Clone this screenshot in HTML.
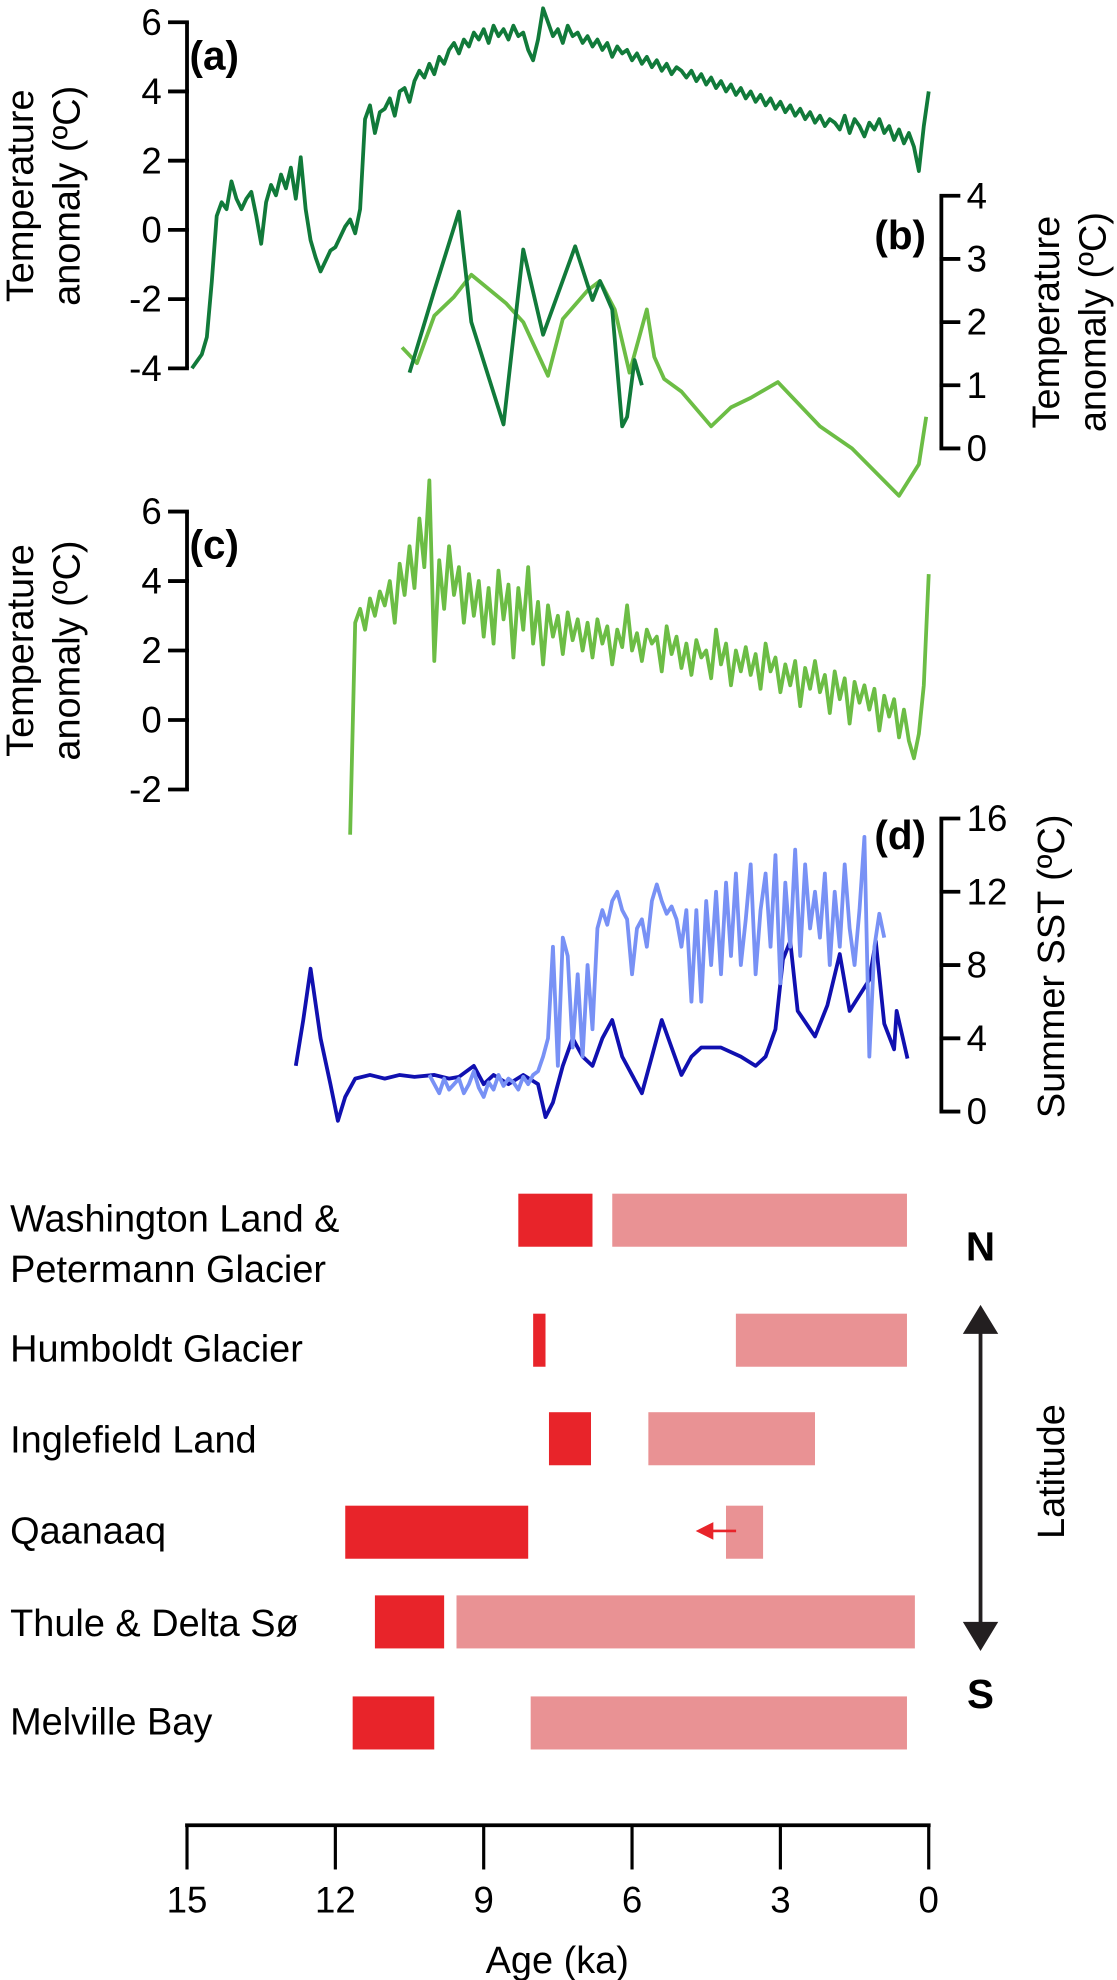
<!DOCTYPE html>
<html><head><meta charset="utf-8"><style>
html,body{margin:0;padding:0;background:#fff}
svg{display:block;font-family:"Liberation Sans",sans-serif}
</style></head><body>
<svg id="chart" width="1117" height="1980" viewBox="0 0 884 1567.5" preserveAspectRatio="none" xmlns="http://www.w3.org/2000/svg">
<g id="axes"></g>
<g id="series"></g>
<g id="bars"></g>
<g font-weight="bold" font-size="32">
<text x="150" y="55">(a)</text>
<text x="692" y="197">(b)</text>
<text x="150" y="442">(c)</text>
<text x="692" y="672">(d)</text>
</g>
<g font-size="30" text-anchor="middle">
<text transform="translate(26,155) rotate(-90)">Temperature</text>
<text transform="translate(63,155) rotate(-90)">anomaly (ºC)</text>
<text transform="translate(838,255) rotate(-90)">Temperature</text>
<text transform="translate(875,255) rotate(-90)">anomaly (ºC)</text>
<text transform="translate(26,515) rotate(-90)">Temperature</text>
<text transform="translate(63,515) rotate(-90)">anomaly (ºC)</text>
<text transform="translate(842,765) rotate(-90)">Summer SST (ºC)</text>
<text x="441" y="1562">Age (ka)</text>
<text transform="translate(842,1165) rotate(-90)">Latitude</text>
</g>
<g font-size="30">
<text x="8" y="975">Washington Land &amp;</text>
<text x="8" y="1015">Petermann Glacier</text>
<text x="8" y="1078">Humboldt Glacier</text>
<text x="8" y="1150">Inglefield Land</text>
<text x="8" y="1222">Qaanaaq</text>
<text x="8" y="1295">Thule &amp; Delta Sø</text>
<text x="8" y="1373">Melville Bay</text>
</g>
<g>
<text x="776" y="998" font-size="32" font-weight="bold" text-anchor="middle">N</text>
<text x="776" y="1352" font-size="32" font-weight="bold" text-anchor="middle">S</text>
<line x1="776" y1="1050" x2="776" y2="1290" stroke="#231f20" stroke-width="3"/>
<polygon points="776,1033 762,1056 790,1056" fill="#231f20"/>
<polygon points="776,1307 762,1284 790,1284" fill="#231f20"/>
</g>
</svg>
<script>
// ---- data ----
const aStart = 14.9, aStep = 0.1;
const aValues = [-4.0,-3.8,-3.6,-3.1,-1.5,0.4,0.8,0.6,1.4,0.9,
0.6,0.9,1.1,0.4,-0.4,0.8,1.3,1.0,1.6,1.2,
1.8,0.9,2.1,0.6,-0.3,-0.8,-1.2,-0.9,-0.6,-0.5,
-0.2,0.1,0.3,-0.1,0.6,3.2,3.6,2.8,3.4,3.5,
3.8,3.3,4.0,4.1,3.7,4.3,4.6,4.4,4.8,4.5,
5.0,4.8,5.2,5.4,5.1,5.5,5.3,5.7,5.5,5.8,
5.4,5.9,5.6,5.8,5.5,5.9,5.6,5.7,5.2,4.9,
5.5,6.4,6.0,5.6,5.8,5.4,5.9,5.6,5.7,5.4,
5.6,5.3,5.5,5.2,5.4,5.0,5.3,5.1,5.2,4.9,
5.1,4.8,5.0,4.7,4.9,4.6,4.8,4.5,4.7,4.6,
4.4,4.6,4.3,4.5,4.2,4.4,4.1,4.3,4.0,4.2,
3.9,4.1,3.8,4.0,3.7,3.9,3.6,3.8,3.5,3.7,
3.4,3.6,3.3,3.5,3.2,3.4,3.1,3.3,3.0,3.2,
3.1,2.9,3.3,2.8,3.2,3.0,2.7,3.1,2.9,3.2,
2.8,3.0,2.6,2.9,2.5,2.8,2.4,1.7,3.0,4.0];
const b1Ages = [10.5,10.0,9.5,9.25,8.6,8.2,7.8,7.15,6.8,6.65,6.4,6.2,6.1,5.95,5.8];
const b1Values = [1.2,2.5,3.75,2.0,0.38,3.15,1.8,3.2,2.35,2.65,2.2,0.35,0.5,1.4,1.0];
const b2Ages = [10.65,10.35,10.0,9.6,9.25,8.55,8.2,7.7,7.4,6.9,6.65,6.35,6.05,5.7,5.55,5.35,5.0,4.4,4.0,3.6,3.05,2.2,1.55,0.6,0.2,0.05];
const b2Values = [1.6,1.35,2.1,2.4,2.75,2.3,2.0,1.15,2.05,2.5,2.65,2.2,1.2,2.2,1.45,1.1,0.9,0.35,0.65,0.8,1.05,0.35,0.0,-0.75,-0.25,0.5];
const cStart = 11.7, cStep = 0.1;
const cValues = [-3.3,2.8,3.2,2.6,3.5,3.0,3.7,3.3,
4.0,2.8,4.5,3.6,5.0,3.8,5.8,4.4,6.9,1.7,
4.6,3.2,5.0,3.6,4.4,2.8,4.2,3.0,4.0,2.4,
3.8,2.2,4.3,2.9,3.9,1.8,3.8,2.6,4.4,2.2,
3.4,1.6,3.3,2.4,3.0,1.9,3.1,2.3,2.9,2.0,
2.8,1.8,2.9,2.2,2.7,1.6,2.6,2.1,3.3,2.0,
2.5,1.7,2.6,2.2,2.4,1.4,2.7,1.9,2.4,1.5,
2.2,1.3,2.3,1.8,2.0,1.2,2.6,1.6,2.2,1.0,
2.0,1.4,2.1,1.3,1.9,0.9,2.2,1.4,1.8,0.8,
1.6,1.0,1.7,0.4,1.5,0.9,1.7,0.8,1.3,0.2,
1.4,0.6,1.2,-0.1,1.1,0.5,1.0,0.3,0.9,-0.3,
0.7,0.1,0.6,-0.5,0.3,-0.6,-1.1,-0.4,1.0,4.2];
const d1Ages = [12.8,12.65,12.5,12.3,12.1,11.95,11.8,11.6,11.3,11.0,10.7,10.4,10.0,9.7,9.5,9.2,9.0,8.8,8.5,8.2,7.9,7.75,7.6,7.4,7.2,7.0,6.8,6.6,6.4,6.2,6.0,5.8,5.6,5.4,5.2,5.0,4.8,4.6,4.2,3.8,3.5,3.3,3.1,2.95,2.8,2.65,2.3,2.05,1.8,1.6,1.2,1.07,0.9,0.7,0.65,0.43];
const d1Values = [2.5,5.0,7.8,4.0,1.5,-0.5,0.8,1.8,2.0,1.8,2.0,1.9,2.0,1.8,1.9,2.5,1.5,2.0,1.5,2.0,1.5,-0.3,0.5,2.5,4.0,3.0,2.5,4.0,5.0,3.0,2.0,1.0,3.0,5.0,3.5,2.0,3.0,3.5,3.5,3.0,2.5,3.0,4.5,8.3,9.3,5.5,4.1,5.8,8.6,5.5,7.2,9.3,4.8,3.4,5.5,2.9];
const d2Start = 10.1, d2Step = 0.1;
const d2Values = [2.0,1.5,1.0,1.8,1.2,1.5,1.8,1.0,1.5,2.2,
1.3,0.8,1.6,1.2,2.0,1.4,1.8,1.6,1.2,1.9,
1.5,2.0,2.2,3.0,4.0,9.0,2.5,9.5,8.5,3.5,
7.5,3.0,8.0,4.5,10.0,11.0,10.2,11.5,12.0,11.0,
10.5,7.5,10.0,10.5,9.0,11.5,12.4,11.5,10.8,11.2,
10.5,9.0,11.0,6.0,11.0,6.0,11.5,8.0,12.0,7.5,
12.5,8.5,13.0,8.0,10.5,13.5,7.5,11.0,13.0,9.0,
14.0,7.0,12.5,9.0,14.3,8.5,13.5,10.0,12.0,9.5,
13.0,8.0,12.0,9.0,13.5,10.0,8.0,11.0,15.0,3.0,
9.0,10.8,9.5];
const siteNames = ["washington","humboldt","inglefield","qaanaaq","thule","melville"];
const siteTop = [945,1040,1118,1192,1263,1343];
const advanceStart = [8.3,8.0,7.68,11.8,11.2,11.65];
const advanceEnd = [6.8,7.75,6.83,8.1,9.8,10.0];
const retreatStart = [6.4,3.9,5.67,4.1,9.55,8.05];
const retreatEnd = [0.44,0.44,2.3,3.35,0.28,0.44];
const xTicks = [15,12,9,6,3,0];
const aTicks = [6,4,2,0,-2,-4];
const bTicks = [4,3,2,1,0];
const cTicks = [6,4,2,0,-2];
const dTicks = [16,12,8,4,0];

// ---- scales ----
const NS='http://www.w3.org/2000/svg';
const X = a => 735 - a*39.133;
const Ya = v => 182 - v*27.4;
const Yb = v => 355 - v*50;
const Yc = v => 570 - v*27.5;
const Yd = v => 880 - v*14.5;
function mk(tag, attrs, parent){const e=document.createElementNS(NS,tag);for(const k in attrs)e.setAttribute(k,attrs[k]);parent.appendChild(e);return e;}
const axes=document.getElementById('axes'), series=document.getElementById('series'), bars=document.getElementById('bars');

function line(ages, vals, ys, color, name){
  const d = vals.map((v,i)=>(i?'L':'M')+X(ages[i]).toFixed(1)+','+ys(v).toFixed(1)).join('');
  const p = mk('path',{d:d,fill:'none',stroke:color,'stroke-width':3,'stroke-linejoin':'round'},series);
  
  
}
const stepAges = (s,st,n)=>{const r=[];for(let i=0;i<n;i++)r.push(+(s-i*st).toFixed(3));return r;};
line(stepAges(aStart,aStep,aValues.length), aValues, Ya, '#117a3a', 'series-a-line');
line(b2Ages, b2Values, Yb, '#6cbd45', 'series-b-light-line');
line(b1Ages, b1Values, Yb, '#117a3a', 'series-b-dark-line');
line(stepAges(cStart,cStep,cValues.length), cValues, Yc, '#6cbd45', 'series-c-line');
line(d1Ages, d1Values, Yd, '#1010b0', 'series-d-dark-line');
line(stepAges(d2Start,d2Step,d2Values.length), d2Values, Yd, '#7891f5', 'series-d-light-line');

function yAxis(x, ticks, ys, side, name){
  const g = mk('g',{},axes);
  
  
  const y1=ys(ticks[0]), y2=ys(ticks[ticks.length-1]);
  mk('line',{x1:x,y1:y1,x2:x,y2:y2,stroke:'#000','stroke-width':3},g);
  ticks.forEach(t=>{
    const y=ys(t); const dx = side==='left'?-15:15;
    mk('line',{x1:x-(side==='left'?-1.5:1.5),y1:y,x2:x+dx,y2:y,stroke:'#000','stroke-width':3},g);
    const tx = mk('text',{x:side==='left'?x-20:x+20,y:y+10,'font-size':29,'text-anchor':side==='left'?'end':'start'},g);
    tx.textContent = t;
    
    
  });
}
yAxis(148, aTicks, Ya, 'left', 'y-axis-a');
yAxis(745, bTicks, Yb, 'right', 'y-axis-b');
yAxis(148, cTicks, Yc, 'left', 'y-axis-c');
yAxis(745, dTicks, Yd, 'right', 'y-axis-d');

// x axis
const xg = mk('g',{},axes);


mk('line',{x1:X(15)-1.5,y1:1445,x2:X(0)+1.5,y2:1445,stroke:'#000','stroke-width':3},xg);
xTicks.forEach(t=>{
  mk('line',{x1:X(t),y1:1445,x2:X(t),y2:1480,stroke:'#000','stroke-width':2.5},xg);
  const tx = mk('text',{x:X(t),y:1514,'font-size':29,'text-anchor':'middle'},xg);
  tx.textContent = t;
  
  
});

// bars
siteNames.forEach((s,i)=>{
  const r1 = mk('rect',{x:X(advanceStart[i]),y:siteTop[i],width:X(advanceEnd[i])-X(advanceStart[i]),height:42,fill:'#e8242a'},bars);
  
  
  const r2 = mk('rect',{x:X(retreatStart[i]),y:siteTop[i],width:X(retreatEnd[i])-X(retreatStart[i]),height:42,fill:'#e99294'},bars);
  
  
});
const ag = mk('g',{},bars);


mk('line',{x1:X(4.1)+8,y1:1212,x2:X(4.1)-12,y2:1212,stroke:'#e8242a','stroke-width':2},ag);
mk('polygon',{points:(X(4.1)-24)+',1212 '+(X(4.1)-10)+',1205 '+(X(4.1)-10)+',1219',fill:'#e8242a'},ag);
</script>
</body></html>
